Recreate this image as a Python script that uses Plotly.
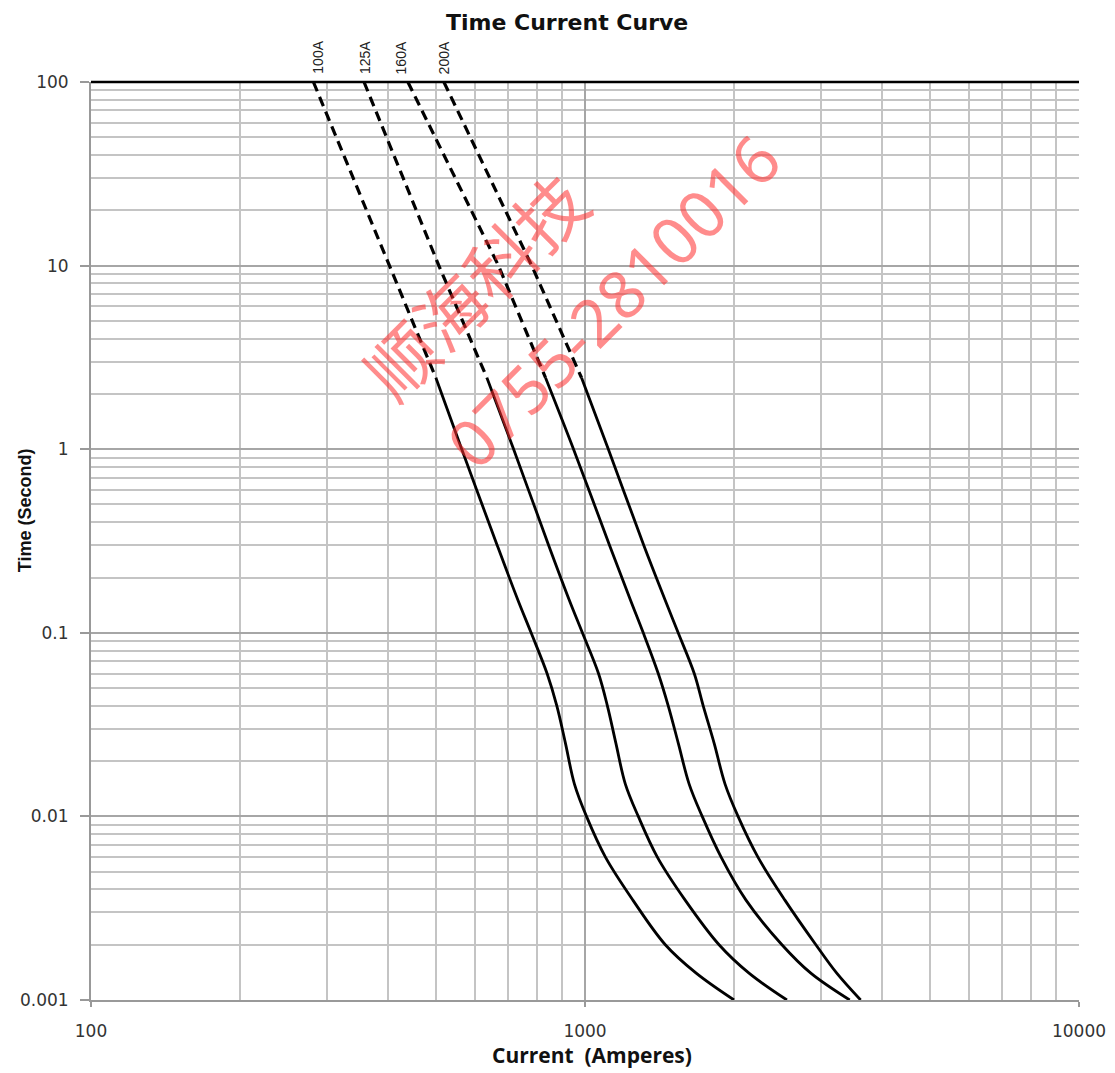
import math
import plotly.graph_objects as go

# ---------------- data ----------------
ratings = ["100A", "125A", "160A", "200A"]

# dashed (extrapolated) part: time (s) and current (A)
dash_t = [100, 10, 2.45]
dash_i_100 = [282, 401, 499]
dash_i_125 = [357, 506, 633]
dash_i_160 = [438, 668, 832]
dash_i_200 = [518, 780, 984]

# solid part (time in seconds, current in amperes)
solid_t = [2.45, 1, 0.3, 0.15, 0.1, 0.06, 0.04, 0.025, 0.015, 0.01, 0.006, 0.0035, 0.002, 0.0014, 0.001]
i_100 = [499, 563, 664, 732, 778, 838, 877, 913, 952, 1007, 1100, 1250, 1454, 1679, 2003]
i_125 = [633, 717, 844, 930, 988, 1065, 1110, 1155, 1207, 1282, 1401, 1595, 1868, 2148, 2563]
i_160 = [832, 948, 1121, 1237, 1312, 1407, 1474, 1545, 1625, 1727, 1886, 2118, 2504, 2865, 3434]
i_200 = [984, 1115, 1315, 1454, 1544, 1664, 1735, 1826, 1921, 2041, 2239, 2539, 2933, 3233, 3614]

label_x = [287, 358, 424, 518]

x_ticks = [100, 1000, 10000]
x_ticktext = ["100", "1000", "10000"]
x_minor = [200, 300, 400, 500, 600, 700, 800, 900, 2000, 3000, 4000, 5000, 6000, 7000, 8000, 9000]
y_ticks = [0.001, 0.01, 0.1, 1, 10, 100]
y_ticktext = ["0.001", "0.01", "0.1", "1", "10", "100"]
y_minor = [m * d for d in [0.001, 0.01, 0.1, 1, 10] for m in range(2, 10)]

dash_sets = [dash_i_100, dash_i_125, dash_i_160, dash_i_200]
solid_sets = [i_100, i_125, i_160, i_200]

# ---------------- figure ----------------
fig = go.Figure()
for name, di, si in zip(ratings, dash_sets, solid_sets):
    fig.add_trace(go.Scatter(x=di, y=dash_t, mode="lines", name=name + " ext",
                             line=dict(color="black", width=3.2, dash="10px,6px"),
                             showlegend=False, hoverinfo="skip"))
    fig.add_trace(go.Scatter(x=si, y=solid_t, mode="lines", name=name,
                             line=dict(color="black", width=2.8, shape="spline", smoothing=1.0),
                             showlegend=False))

tick_font = dict(family="DejaVu Sans, Verdana, sans-serif", size=17, color="#333333")

fig.update_xaxes(type="log", range=[2, 4], tickmode="array", tickvals=x_ticks,
                 ticktext=x_ticktext, tickfont=tick_font,
                 showgrid=True, gridcolor="#a6a6a6", gridwidth=1.5,
                 showline=True, linecolor="#999999", linewidth=2,
                 ticks="outside", ticklen=5, tickcolor="#999999", tickwidth=1.5,
                 ticklabelstandoff=10, zeroline=False,
                 minor=dict(tickmode="array", tickvals=x_minor, showgrid=True,
                            gridcolor="#c4c4c4", gridwidth=1.5, ticks=""))

fig.update_yaxes(type="log", range=[-3, 2], tickmode="array", tickvals=y_ticks,
                 ticktext=y_ticktext, tickfont=tick_font,
                 showgrid=True, gridcolor="#a6a6a6", gridwidth=1.5,
                 showline=True, linecolor="#999999", linewidth=2,
                 ticks="outside", ticklen=9, tickcolor="#999999", tickwidth=1.5,
                 ticklabelstandoff=8, zeroline=False,
                 minor=dict(tickmode="array", tickvals=y_minor, showgrid=True,
                            gridcolor="#c4c4c4", gridwidth=1.5, ticks=""))

wm_color = "rgba(255,45,45,0.55)"
annotations = [
    dict(text="<b>Time Current Curve</b>", xref="paper", yref="paper", x=0.482, y=1.0645,
         xanchor="center", yanchor="middle", showarrow=False,
         font=dict(family="DejaVu Sans, Verdana, sans-serif", size=22, color="#111111")),
    dict(text="<b>Current&nbsp;&nbsp;(Amperes)</b>", xref="paper", yref="paper", x=0.507, y=-0.0595,
         xanchor="center", yanchor="middle", showarrow=False,
         font=dict(family="Open Sans, sans-serif", size=21, color="#111111")),
    dict(text="<b>Time (Second)</b>", xref="paper", yref="paper", x=-0.0666, y=0.5338,
         xanchor="center", yanchor="middle", textangle=-90, showarrow=False,
         font=dict(family="Liberation Sans Narrow, Arial Narrow, sans-serif", size=18, color="#111111")),
    dict(text="顺海科技", xref="paper", yref="paper", x=0.3875, y=0.779, textangle=-45,
         xanchor="center", yanchor="middle", showarrow=False,
         font=dict(family="Noto Sans CJK SC, sans-serif", size=70, color=wm_color)),
    dict(text="0755-2810016", xref="paper", yref="paper", x=0.528, y=0.7625, textangle=-45,
         xanchor="center", yanchor="middle", showarrow=False,
         font=dict(family="Noto Sans, sans-serif", size=66, color=wm_color)),
]
for lab, lx in zip(ratings, label_x):
    annotations.append(dict(text=lab, x=math.log10(lx), xref="x", y=1, yref="paper",
                            xanchor="center", yanchor="bottom", yshift=6, textangle=-90,
                            showarrow=False,
                            font=dict(family="Liberation Sans Narrow, Arial Narrow, sans-serif",
                                      size=14, color="#222222")))

fig.update_layout(
    width=1115, height=1073,
    margin=dict(l=80, r=44, t=74, b=81),
    plot_bgcolor="white", paper_bgcolor="white",
    annotations=annotations,
    shapes=[dict(type="line", xref="paper", yref="paper", x0=0, x1=1, y0=1, y1=1,
                 line=dict(color="black", width=2.5))],
)

fig.write_html("out.html")
